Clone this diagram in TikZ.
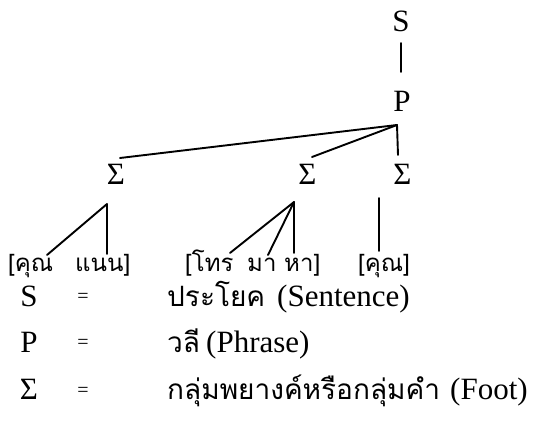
\documentclass[tikz,border=0pt]{standalone}
\usepackage{fontspec}
\setmainfont{Liberation Serif}
\newfontfamily\thai[Script=Thai]{Loma}
\begin{document}
\begin{tikzpicture}[x=1pt,y=-1pt,
  lbl/.style={font=\fontsize{31}{31}\selectfont, inner sep=0pt},
  word/.style={font=\thai\fontsize{24}{24}\selectfont, inner sep=0pt, anchor=base west},
  eqs/.style={font=\fontsize{20}{20}\selectfont, inner sep=0pt},
  gloss/.style={font=\fontsize{31}{31}\selectfont, inner sep=0pt, anchor=base west},
  th/.style={font=\thai\fontsize{28}{28}\selectfont, inner sep=0pt, anchor=base west},
  edge/.style={line width=1.9pt, line cap=round}]
\useasboundingbox (0,0) rectangle (542,435);

% tree labels
\node[lbl] (S) at (401,21) {S};
\node[lbl] (P) at (402,101) {P};
\node[lbl] (F1) at (116,174) {Σ};
\node[lbl] (F2) at (307.5,174) {Σ};
\node[lbl] (F3) at (402.5,174) {Σ};

% branching points
\coordinate (s0) at (401,43);
\coordinate (p0) at (401,72);
\coordinate (j) at (397,125);
\coordinate (e1) at (120,158);
\coordinate (e2) at (312,157);
\coordinate (e3) at (398,155);
\coordinate (a1) at (107,204);
\coordinate (a2) at (294,202);
\coordinate (a3) at (379,198);

% syllables
\node[word] (w1) at (8,272) {[คุณ};
\node[word] (w2) at (75,272) {แนน]};
\node[word] (w3) at (185,272) {[โทร};
\node[word] (w4) at (247,272) {มา};
\node[word] (w5) at (284,272) {หา]};
\node[word] (w6) at (358,272) {[คุณ]};

\coordinate (b1) at (47,255);
\coordinate (b2) at (107,254);
\coordinate (b3) at (230,253);
\coordinate (b4) at (268,255);
\coordinate (b5) at (294,253);
\coordinate (b6) at (379,251);

% connectors
\draw[edge] (s0) -- (p0);
\draw[edge] (j) -- (e1);
\draw[edge] (j) -- (e2);
\draw[edge] (j) -- (e3);
\draw[edge] (a1) -- (b1);
\draw[edge] (a1) -- (b2);
\draw[edge] (a2) -- (b3);
\draw[edge] (a2) -- (b4);
\draw[edge] (a2) -- (b5);
\draw[edge] (a3) -- (b6);

% legend: symbol, equals sign, Thai gloss, English gloss
\node[lbl, anchor=base] (kS) at (29,307) {S};
\node[lbl, anchor=base] (kP) at (29,353) {P};
\node[lbl, anchor=base] (kF) at (29,400) {Σ};
\node[eqs] (q1) at (83,298) {=};
\node[eqs] (q2) at (83,344) {=};
\node[eqs] (q3) at (83,392) {=};
\node[th] (t1) at (167,307) {ประโยค};
\node[th] (t2) at (167,353) {วลี};
\node[th] (t3) at (167,400) {กลุ่มพยางค์หรือกลุ่มคำ};
\node[gloss] (g1) at (277,307) {(Sentence)};
\node[gloss] (g2) at (206,353) {(Phrase)};
\node[gloss] (g3) at (450,400) {(Foot)};
\end{tikzpicture}
\end{document}
